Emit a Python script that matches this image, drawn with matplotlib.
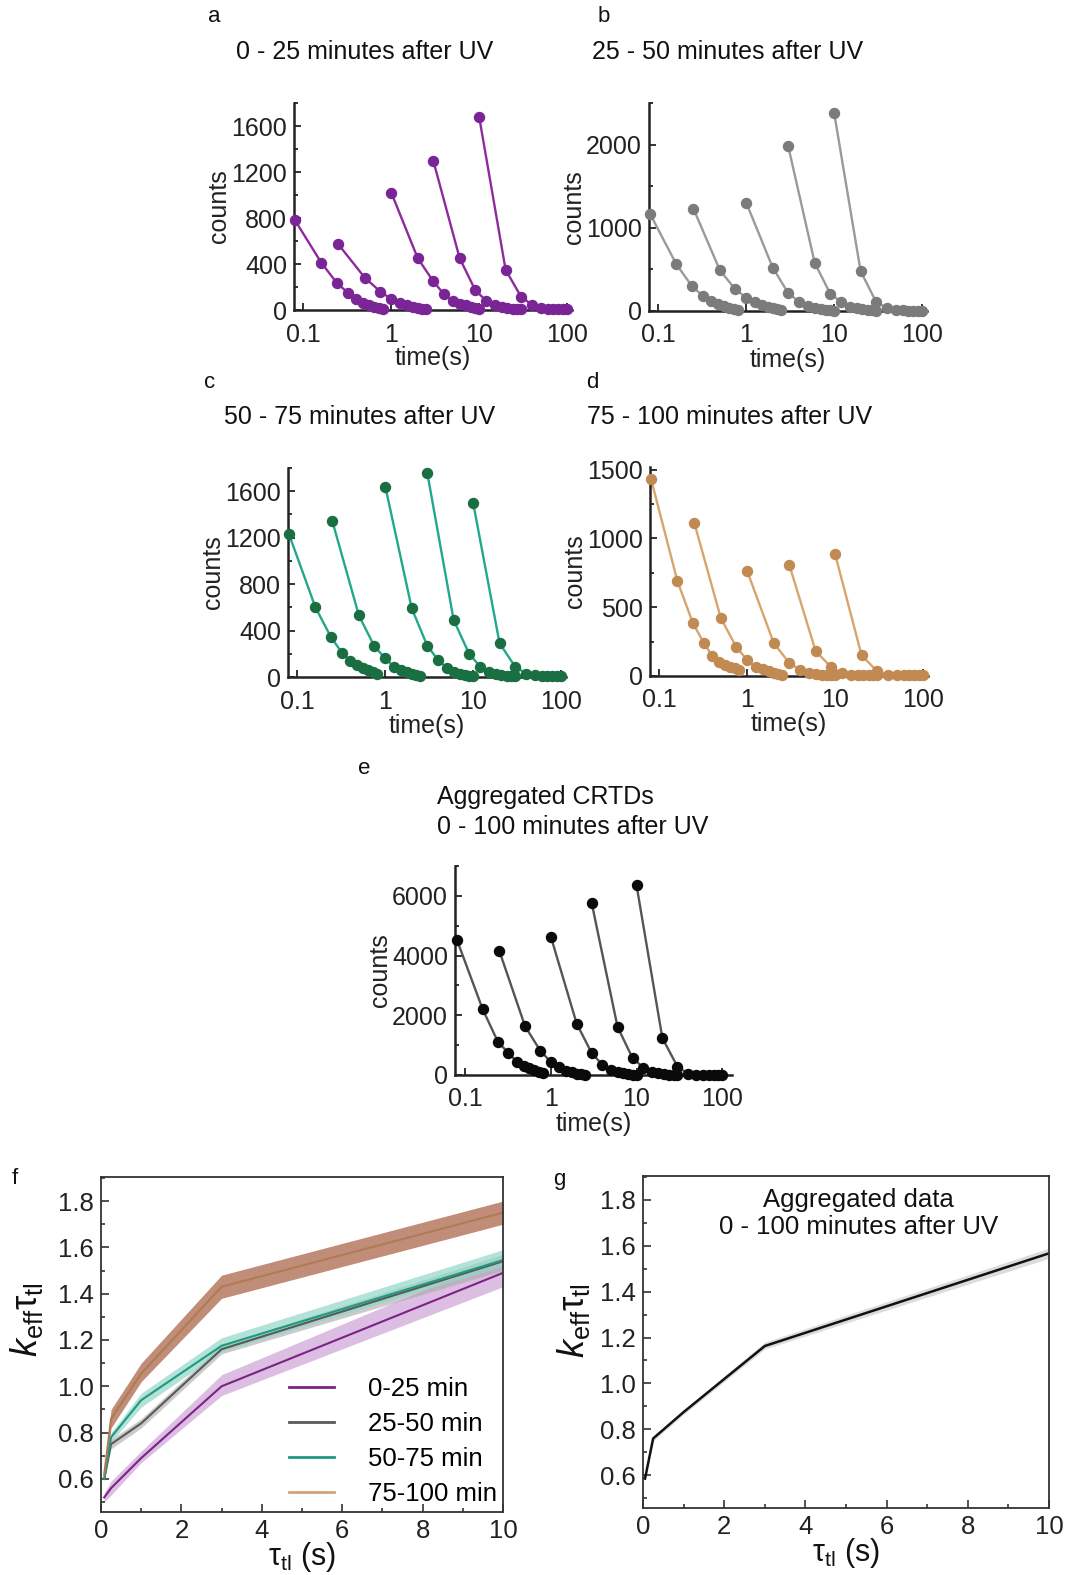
import numpy as np
import matplotlib
matplotlib.use('Agg')
import matplotlib.pyplot as plt
from matplotlib.ticker import FixedLocator, MultipleLocator, NullFormatter

plt.rcParams['font.family'] = ['Liberation Sans', 'DejaVu Sans']
plt.rcParams['mathtext.fontset'] = 'custom'
plt.rcParams['mathtext.rm'] = 'Liberation Sans'
plt.rcParams['mathtext.it'] = 'Liberation Sans:italic'

# time-lapse intervals (s) and frame index of each CRTD point
tau = [0.08, 0.25, 1, 3, 10]
frames = np.arange(1, 11)

counts_a = [[780, 410, 235, 150, 95, 60, 45, 30, 15, 5],
            [570, 280, 160, 95, 60, 45, 30, 20, 10, 5],
            [1020, 450, 250, 135, 80, 55, 40, 30, 15, 5],
            [1300, 450, 175, 80, 45, 30, 20, 10, 5, 5],
            [1680, 350, 115, 45, 20, 10, 5, 5, 5, 5]]
counts_b = [[1170, 560, 300, 180, 120, 80, 60, 40, 25, 10],
            [1230, 490, 260, 160, 110, 70, 50, 35, 20, 10],
            [1300, 520, 215, 110, 60, 40, 25, 15, 10, 5],
            [1980, 580, 210, 110, 50, 35, 25, 15, 10, 5],
            [2380, 480, 110, 35, 15, 10, 5, 5, 5, 5]]
counts_c = [[1230, 600, 345, 210, 140, 100, 80, 60, 45, 30],
            [1340, 530, 265, 160, 90, 60, 45, 30, 20, 10],
            [1640, 590, 270, 145, 80, 45, 30, 20, 10, 5],
            [1760, 490, 200, 90, 45, 30, 20, 10, 5, 5],
            [1500, 290, 90, 30, 15, 10, 5, 5, 5, 5]]
counts_d = [[1435, 690, 385, 240, 145, 100, 80, 65, 55, 40],
            [1110, 420, 210, 115, 65, 50, 35, 25, 15, 5],
            [760, 240, 95, 45, 25, 15, 10, 5, 5, 5],
            [810, 180, 65, 20, 10, 5, 5, 5, 5, 5],
            [885, 150, 35, 10, 5, 5, 5, 5, 5, 5]]
counts_e = [[4530, 2200, 1120, 730, 450, 310, 230, 170, 110, 60],
            [4160, 1630, 820, 430, 260, 150, 90, 50, 30, 15],
            [4630, 1720, 730, 340, 170, 110, 60, 30, 15, 10],
            [5750, 1610, 560, 250, 110, 60, 30, 15, 10, 5],
            [6350, 1240, 280, 40, 15, 10, 5, 5, 5, 5]]

# k_eff * tau_tl vs tau_tl (panel f), mean and band limits
groups = ['0-25 min', '25-50 min', '50-75 min', '75-100 min']
keff_mean = [[0.52, 0.56, 0.69, 1.00, 1.49],
             [0.60, 0.75, 0.84, 1.16, 1.54],
             [0.60, 0.78, 0.94, 1.175, 1.545],
             [0.62, 0.86, 1.055, 1.43, 1.75]]
keff_low = [[0.50, 0.53, 0.67, 0.96, 1.43],
            [0.59, 0.73, 0.82, 1.14, 1.50],
            [0.59, 0.76, 0.91, 1.15, 1.52],
            [0.60, 0.82, 1.02, 1.38, 1.70]]
keff_high = [[0.54, 0.59, 0.72, 1.05, 1.56],
             [0.61, 0.77, 0.86, 1.18, 1.57],
             [0.61, 0.80, 0.97, 1.21, 1.59],
             [0.64, 0.90, 1.10, 1.48, 1.80]]

# aggregated data (panel g)
agg_tau = [0.05, 0.25, 1, 3, 10]
agg_mean = [0.585, 0.76, 0.875, 1.163, 1.567]
agg_low = [0.575, 0.75, 0.865, 1.15, 1.545]
agg_high = [0.595, 0.77, 0.885, 1.18, 1.59]

W, H = 1073, 1575
fig = plt.figure(figsize=(W / 100, H / 100), dpi=100)


def rect(l, t, r, b):
    return [l / W, 1 - b / H, (r - l) / W, (b - t) / H]


def ftext(x, y, s, **kw):
    fig.text(x / W, 1 - y / H, s, **kw)


def crtd(box, counts, ymax, major, minor, line_c, mark_c, xlim=(0.078, 114)):
    ax = fig.add_axes(rect(*box))
    for tl, c in zip(tau, counts):
        t = tl * frames
        ax.plot(t, c, '-', color=line_c, lw=1.7, zorder=2, clip_on=False)
        ax.plot(t, c, 'o', color=mark_c, ms=7.2, mec=mark_c, zorder=3, clip_on=False)
    ax.set_xscale('log')
    ax.set_xlim(*xlim)
    ax.set_ylim(0, ymax)
    ax.set_xticks([0.1, 1, 10, 100])
    ax.set_xticklabels(['0.1', '1', '10', '100'])
    ax.xaxis.set_minor_formatter(NullFormatter())
    ax.yaxis.set_major_locator(MultipleLocator(major))
    ax.yaxis.set_minor_locator(MultipleLocator(minor))
    for s in ['top', 'right']:
        ax.spines[s].set_visible(False)
    for s in ['left', 'bottom']:
        ax.spines[s].set_linewidth(1.8)
        ax.spines[s].set_color('#222222')
    ax.tick_params(which='both', direction='in', labelsize=18, width=1.3, colors='#222222')
    ax.tick_params(axis='x', which='major', pad=9)
    ax.tick_params(axis='y', which='major', pad=5)
    ax.tick_params(which='major', length=5)
    ax.tick_params(which='minor', length=3)
    ax.set_ylabel('counts', fontsize=18, labelpad=0, color='#222222')
    ax.set_xlabel('time(s)', fontsize=18, labelpad=0, color='#222222')
    return ax


crtd((294, 103, 572, 310), counts_a, 1800, 400, 200, '#8e2b9c', '#7a2596')
crtd((649, 103, 927, 311), counts_b, 2500, 1000, 500, '#9a9a9a', '#7b7b7b')
crtd((288, 468, 566, 677), counts_c, 1800, 400, 200, '#22a88c', '#1a6f42')
crtd((650, 467, 928, 676), counts_d, 1520, 500, 250, '#d6a56e', '#c08a52')
crtd((455, 866, 732, 1075), counts_e, 7000, 2000, 1000, '#555555', '#0a0a0a', xlim=(0.076, 130))

title_kw = dict(fontsize=18, ha='center', va='center', color='#111111')
ftext(365, 52, '0 - 25 minutes after UV', **title_kw)
ftext(728, 52, '25 - 50 minutes after UV', **title_kw)
ftext(360, 417, '50 - 75 minutes after UV', **title_kw)
ftext(730, 417, '75 - 100 minutes after UV', **title_kw)
ftext(437, 797, 'Aggregated CRTDs', fontsize=18, ha='left', va='center', color='#111111')
ftext(437, 827, '0 - 100 minutes after UV', fontsize=18, ha='left', va='center', color='#111111')

letter_kw = dict(fontsize=16, ha='center', va='center', color='#111111')
for lab, x, y in [('a', 214, 17), ('b', 604, 17), ('c', 210, 383), ('d', 592, 383),
                  ('e', 364, 768), ('f', 15, 1178), ('g', 559, 1180)]:
    ftext(x, y, lab, **letter_kw)


def keff_axes(box, label_xy):
    ax = fig.add_axes(rect(*box))
    ax.set_xlim(0, 10)
    ax.set_ylim(0.457, 1.904)
    ax.xaxis.set_major_locator(MultipleLocator(2))
    ax.xaxis.set_minor_locator(MultipleLocator(1))
    ax.yaxis.set_major_locator(FixedLocator([0.6, 0.8, 1.0, 1.2, 1.4, 1.6, 1.8]))
    ax.yaxis.set_minor_locator(MultipleLocator(0.1))
    ax.set_yticklabels(['0.6', '0.8', '1.0', '1.2', '1.4', '1.6', '1.8'])
    for s in ax.spines.values():
        s.set_linewidth(1.3)
        s.set_color('#333333')
    ax.tick_params(which='both', direction='in', labelsize=18.5, width=1.1, colors='#222222')
    ax.tick_params(which='major', length=6, pad=5)
    ax.tick_params(which='minor', length=3)
    ax.set_xlabel(r'$\mathrm{\tau}_{\mathrm{tl}}$ (s)', fontsize=22, labelpad=-2, color='#111111')
    ax.set_ylabel(r'$k_{\mathrm{eff}}\mathrm{\tau}_{\mathrm{tl}}$', fontsize=26, color='#111111')
    ax.yaxis.set_label_coords(*label_xy)
    return ax


axf = keff_axes((101, 1177, 503, 1512), (-0.14, 0.575))
line_cols = ['#7b2386', '#595959', '#1f9a7f', '#b07a55']
band_cols = ['#d2a9da', '#a9a9a9', '#92d7c8', '#b98269']
band_alpha = [0.75, 0.6, 0.7, 0.9]
for i in [3, 0, 1, 2]:
    axf.fill_between(tau, keff_low[i], keff_high[i], color=band_cols[i], alpha=band_alpha[i], lw=0)
for i in range(4):
    axf.plot(tau, keff_mean[i], color=line_cols[i], lw=1.5, label=groups[i])
leg = axf.legend(loc='lower right', bbox_to_anchor=(1.0, 0.0), frameon=False,
                 fontsize=18.5, handlelength=1.75, handletextpad=1.3, labelspacing=0.42,
                 borderpad=0.15, borderaxespad=0.1)
leg_cols = ['#7b2386', '#595959', '#1f9a7f', '#d0a37a']
for ln, c in zip(leg.get_lines(), leg_cols):
    ln.set_color(c)
    ln.set_linewidth(2)

axg = keff_axes((643, 1176, 1049, 1508), (-0.125, 0.565))
axg.fill_between(agg_tau, agg_low, agg_high, color='#bbbbbb', alpha=0.5, lw=0)
axg.plot(agg_tau, agg_mean, color='#111111', lw=1.8)
axg.text(0.53, 0.965, 'Aggregated data\n0 - 100 minutes after UV', transform=axg.transAxes,
         ha='center', va='top', fontsize=18.5, linespacing=1.2, color='#111111')

fig.savefig('out.png', dpi=100)
